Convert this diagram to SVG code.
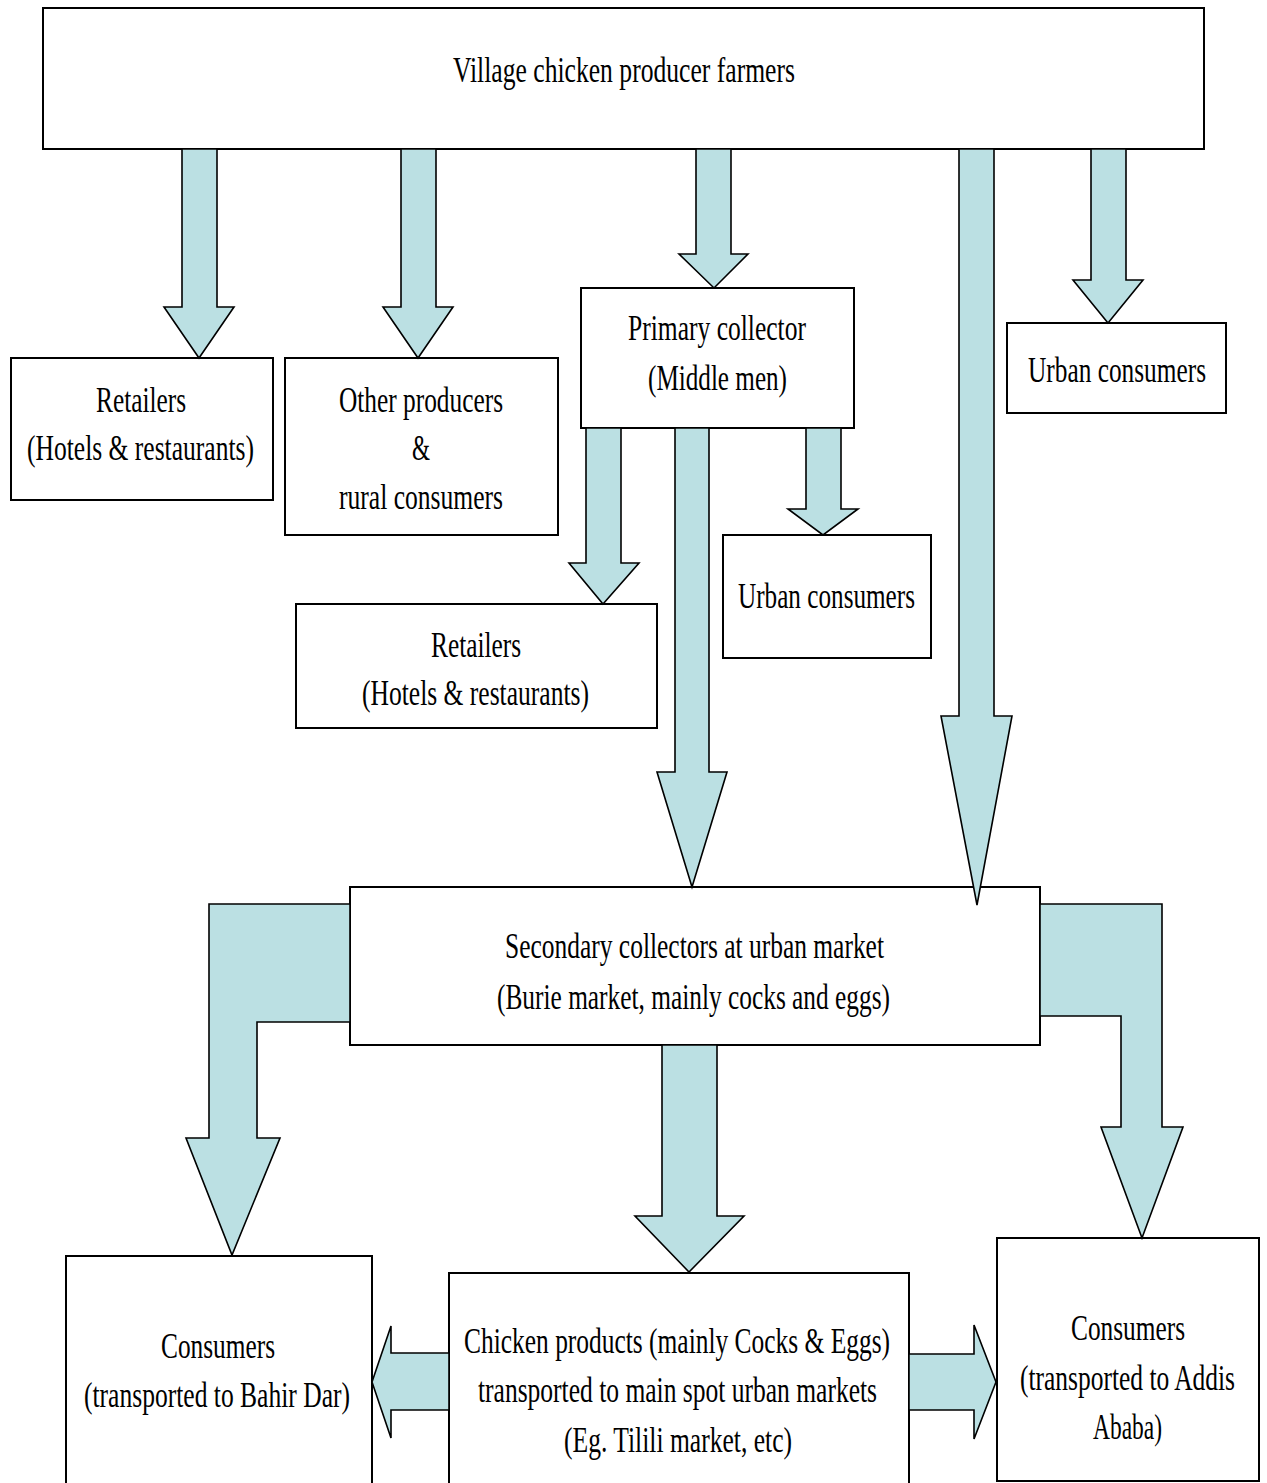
<svg xmlns="http://www.w3.org/2000/svg" width="1267" height="1483" viewBox="0 0 1267 1483">
<style>
.box{fill:#fff;stroke:#000;stroke-width:2}
.arr{fill:#BBE0E3;stroke:#000;stroke-width:1.6;stroke-linejoin:miter}
text{font-family:"Liberation Serif","Times New Roman",serif;font-size:35px;fill:#000}
</style>
<rect width="1267" height="1483" fill="#fff"/>
<g id="n-farmers"><rect class="box" x="43" y="8" width="1161" height="141"/>
<text x="453" y="82" textLength="342" lengthAdjust="spacingAndGlyphs">Village chicken producer farmers</text></g>
<g id="n-retailers1"><rect class="box" x="11" y="358" width="262" height="142"/>
<text x="96" y="412" textLength="90" lengthAdjust="spacingAndGlyphs">Retailers</text>
<text x="27" y="460" textLength="227" lengthAdjust="spacingAndGlyphs">(Hotels &amp; restaurants)</text></g>
<g id="n-other"><rect class="box" x="285" y="358" width="273" height="177"/>
<text x="339" y="412" textLength="164" lengthAdjust="spacingAndGlyphs">Other producers</text>
<text x="412" y="460" textLength="18" lengthAdjust="spacingAndGlyphs">&amp;</text>
<text x="339" y="509" textLength="164" lengthAdjust="spacingAndGlyphs">rural consumers</text></g>
<g id="n-primary"><rect class="box" x="581" y="288" width="273" height="140"/>
<text x="628" y="340" textLength="178" lengthAdjust="spacingAndGlyphs">Primary collector</text>
<text x="648" y="390" textLength="139" lengthAdjust="spacingAndGlyphs">(Middle men)</text></g>
<g id="n-urban1"><rect class="box" x="1007" y="323" width="219" height="90"/>
<text x="1028" y="382" textLength="178" lengthAdjust="spacingAndGlyphs">Urban consumers</text></g>
<g id="n-retailers2"><rect class="box" x="296" y="604" width="361" height="124"/>
<text x="431" y="657" textLength="90" lengthAdjust="spacingAndGlyphs">Retailers</text>
<text x="362" y="705" textLength="227" lengthAdjust="spacingAndGlyphs">(Hotels &amp; restaurants)</text></g>
<g id="n-urban2"><rect class="box" x="723" y="535" width="208" height="123"/>
<text x="738" y="608" textLength="177" lengthAdjust="spacingAndGlyphs">Urban consumers</text></g>
<g id="n-secondary"><rect class="box" x="350" y="887" width="690" height="158"/>
<text x="505" y="958" textLength="379" lengthAdjust="spacingAndGlyphs">Secondary collectors at urban market</text>
<text x="497" y="1009" textLength="393" lengthAdjust="spacingAndGlyphs">(Burie market, mainly cocks and eggs)</text></g>
<g id="n-bahirdar"><rect class="box" x="66" y="1256" width="306" height="240"/>
<text x="161" y="1358" textLength="114" lengthAdjust="spacingAndGlyphs">Consumers</text>
<text x="84" y="1407" textLength="266" lengthAdjust="spacingAndGlyphs">(transported to Bahir Dar)</text></g>
<g id="n-products"><rect class="box" x="449" y="1273" width="460" height="223"/>
<text x="464" y="1353" textLength="426" lengthAdjust="spacingAndGlyphs">Chicken products (mainly Cocks &amp; Eggs)</text>
<text x="478" y="1402" textLength="399" lengthAdjust="spacingAndGlyphs">transported to main spot urban markets</text>
<text x="564" y="1452" textLength="228" lengthAdjust="spacingAndGlyphs">(Eg. Tilili market, etc)</text></g>
<g id="n-addis"><rect class="box" x="997" y="1238" width="262" height="243"/>
<text x="1071" y="1340" textLength="114" lengthAdjust="spacingAndGlyphs">Consumers</text>
<text x="1020" y="1390" textLength="215" lengthAdjust="spacingAndGlyphs">(transported to Addis</text>
<text x="1093" y="1439" textLength="69" lengthAdjust="spacingAndGlyphs">Ababa)</text></g>
<g id="connectors">
<polygon class="arr" points="182,149 217,149 217,307 234,307 199,358 164,307 182,307"/>
<polygon class="arr" points="401,149 436,149 436,307 453,307 418,358 383,307 401,307"/>
<polygon class="arr" points="696,149 731,149 731,254 748,254 714,288 679,254 696,254"/>
<polygon class="arr" points="959,149 994,149 994,716 1012,716 977,905 941,716 959,716"/>
<polygon class="arr" points="1091,149 1126,149 1126,280 1143,280 1108,323 1073,280 1091,280"/>
<polygon class="arr" points="586,428 621,428 621,563 639,563 603,604 569,563 586,563"/>
<polygon class="arr" points="675,428 709,428 709,772 727,772 692,887 657,772 675,772"/>
<polygon class="arr" points="806,428 841,428 841,509 858,509 823,535 788,509 806,509"/>
<polygon class="arr" points="350,904 350,1022 257,1022 257,1138 280,1138 232,1255 186,1138 209,1138 209,904"/>
<polygon class="arr" points="1040,904 1162,904 1162,1127 1183,1127 1142,1238 1101,1127 1121,1127 1121,1016 1040,1016"/>
<polygon class="arr" points="662,1045 717,1045 717,1216 744,1216 689,1272 635,1216 662,1216"/>
<polygon class="arr" points="449,1353 391,1353 391,1326 372,1382 391,1438 391,1410 449,1410"/>
<polygon class="arr" points="909,1354 974,1354 974,1325 996,1382 974,1439 974,1410 909,1410"/>
</g>
</svg>
